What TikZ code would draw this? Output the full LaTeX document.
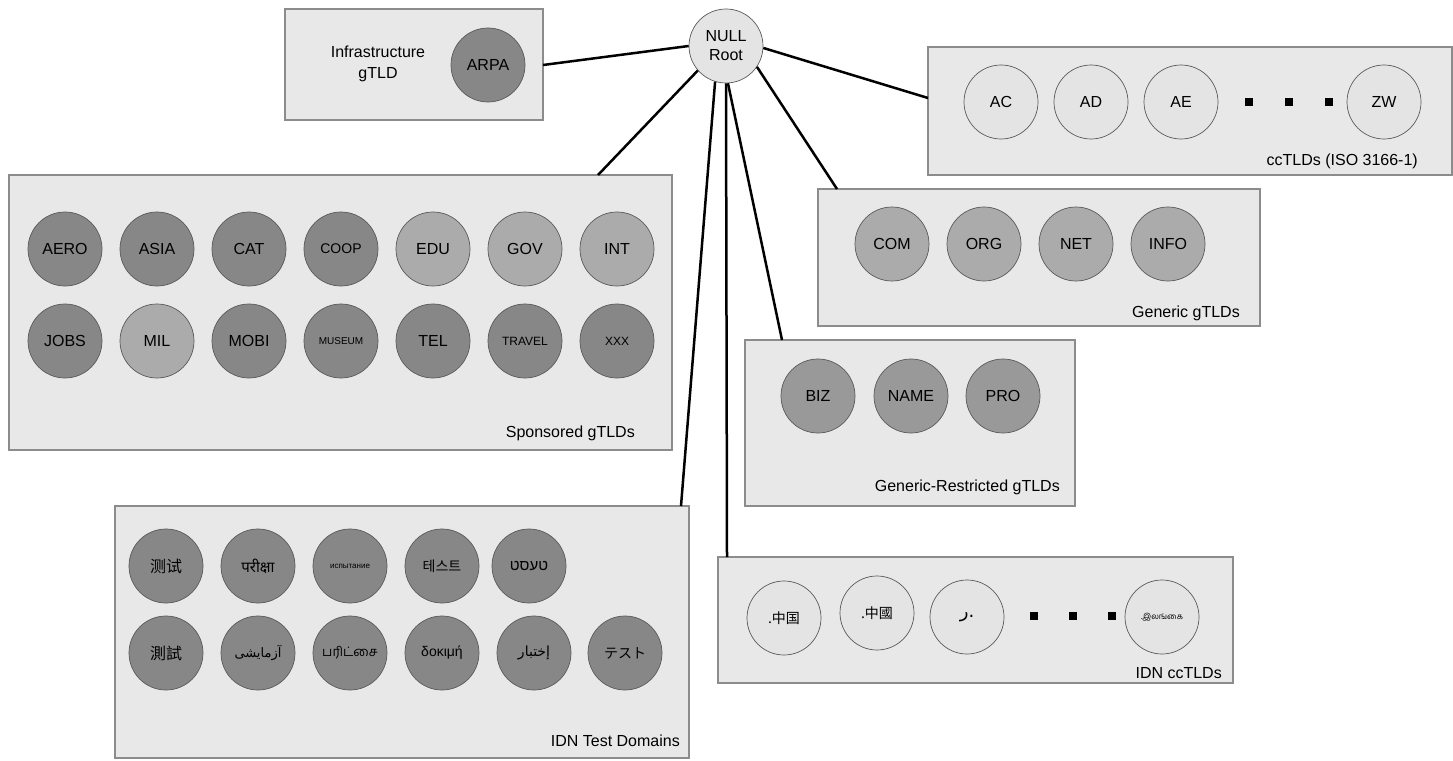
\documentclass[tikz,border=0pt]{standalone}
\usepackage{fontspec}
\setmainfont{Liberation Sans}
\newfontfamily\cjksc{Noto Sans CJK SC}
\newfontfamily\cjktc{Noto Sans CJK TC}
\newfontfamily\cjkjp{Noto Sans CJK JP}
\newfontfamily\cjkkr{Noto Sans CJK KR}
\newfontfamily\devafont[Script=Devanagari]{Noto Sans}
\newfontfamily\tamilfont[Script=Tamil]{Hind Madurai}
\newfontfamily\arabicfont[Script=Arabic]{DejaVu Sans}
\newfontfamily\hebfont[Script=Hebrew]{Liberation Sans}
\TeXXeTstate=1
\definecolor{boxfill}{HTML}{E8E8E8}
\definecolor{boxborder}{HTML}{8C8C8C}
\definecolor{circborder}{HTML}{5A5A5A}
\definecolor{cdark}{HTML}{878787}
\definecolor{cmid}{HTML}{ABABAB}
\definecolor{cres}{HTML}{999999}
\definecolor{clight}{HTML}{E4E4E4}
\newcommand{\fs}[1]{\fontsize{#1}{#1}\selectfont}
\tikzset{
  groupbox/.style={draw=boxborder, fill=boxfill, line width=1.2pt, inner sep=0pt},
  tld/.style={circle, draw=circborder, line width=0.7pt, minimum size=74pt, inner sep=0pt, font=\fs{16}},
  tlddark/.style={tld, fill=cdark},
  tldmid/.style={tld, fill=cmid},
  tldres/.style={tld, fill=cres},
  tldlight/.style={tld, fill=clight},
  dotsq/.style={fill=black, minimum size=8pt, inner sep=0pt},
  grouplabel/.style={anchor=east, inner sep=0pt, font=\fs{16}},
  link/.style={draw=black, line width=2.5pt}
}
\begin{document}
\begin{tikzpicture}[x=1pt,y=-1pt]
\path[use as bounding box] (0,0) rectangle (1453,760);

% group boxes
\node[groupbox, minimum width=258pt, minimum height=111pt] (infra) at (414,64.5) {};
\node[groupbox, minimum width=524pt, minimum height=128pt] (cc) at (1190,111) {};
\node[groupbox, minimum width=442pt, minimum height=137pt] (generic) at (1039,257.5) {};
\node[groupbox, minimum width=330pt, minimum height=166pt] (restr) at (910,423) {};
\node[groupbox, minimum width=663pt, minimum height=275pt] (spons) at (340.5,312.5) {};
\node[groupbox, minimum width=574pt, minimum height=252pt] (idntest) at (402,632) {};
\node[groupbox, minimum width=515pt, minimum height=126pt] (idncc) at (975.5,620) {};

% root
\node[tldlight, align=center, font=\fontsize{16}{19}\selectfont] (root) at (726,46) {NULL\\Root};

% infrastructure
\node[align=center, font=\fontsize{16}{21}\selectfont] (infralabel) at (378,64) {Infrastructure\\gTLD};
\node[tlddark] (arpa) at (488,65) {ARPA};

% ccTLDs
\node[tldlight] (ac) at (1001,102) {AC};
\node[tldlight] (ad) at (1091,102) {AD};
\node[tldlight] (ae) at (1181,102) {AE};
\node[dotsq] (ccd1) at (1249,102) {};
\node[dotsq] (ccd2) at (1289,102) {};
\node[dotsq] (ccd3) at (1329,102) {};
\node[tldlight] (zw) at (1384,102) {ZW};
\node[grouplabel] (cclabel) at (1418,161) {ccTLDs (ISO 3166-1)};

% generic
\node[tldmid] (com) at (892,244) {COM};
\node[tldmid] (org) at (984,244) {ORG};
\node[tldmid] (net) at (1076,244) {NET};
\node[tldmid] (info) at (1168,244) {INFO};
\node[grouplabel] (genlabel) at (1240,313) {Generic gTLDs};

% generic-restricted
\node[tldres] (biz) at (818,396) {BIZ};
\node[tldres] (name) at (911,396) {NAME};
\node[tldres] (pro) at (1003,396) {PRO};
\node[grouplabel] (reslabel) at (1060,487) {Generic-Restricted gTLDs};

% sponsored
\node[tlddark] (aero) at (65,249) {AERO};
\node[tlddark] (asia) at (157,249) {ASIA};
\node[tlddark] (cat) at (249,249) {CAT};
\node[tlddark, font=\fs{14}] (coop) at (341,249) {COOP};
\node[tldmid] (edu) at (433,249) {EDU};
\node[tldmid] (gov) at (525,249) {GOV};
\node[tldmid] (int) at (617,249) {INT};
\node[tlddark] (jobs) at (65,341) {JOBS};
\node[tldmid] (mil) at (157,341) {MIL};
\node[tlddark] (mobi) at (249,341) {MOBI};
\node[tlddark, font=\fs{10}] (museum) at (341,341) {MUSEUM};
\node[tlddark] (tel) at (433,341) {TEL};
\node[tlddark, font=\fs{12}] (travel) at (525,341) {TRAVEL};
\node[tlddark, font=\fs{12}] (xxx) at (617,341) {XXX};
\node[grouplabel] (sponslabel) at (635,433) {Sponsored gTLDs};

% IDN test domains
\node[tlddark, font=\cjksc\fs{16}] (t1) at (166,566) {测试};
\node[tlddark, font=\devafont\fs{15}] (t2) at (258,566) {परीक्षा};
\node[tlddark, font=\fs{8}] (t3) at (350,566) {испытание};
\node[tlddark, font=\cjkkr\fs{14}] (t4) at (442,566) {테스트};
\node[tlddark, font=\hebfont\fs{15}] (t5) at (529,566) {\beginR טעסט\endR};
\node[tlddark, font=\cjktc\fs{16}] (t6) at (166,653) {測試};
\node[tlddark, font=\arabicfont\fs{13}] (t7) at (258,653) {\beginR آزمایشی\endR};
\node[tlddark, font=\tamilfont\fs{13}] (t8) at (350,653) {பரிட்சை};
\node[tlddark, font=\fs{14}] (t9) at (442,653) {δοκιμή};
\node[tlddark, font=\arabicfont\fs{14}] (t10) at (534,653) {\beginR إختبار\endR};
\node[tlddark, font=\cjkjp\fs{14}] (t11) at (625,653) {テスト};
\node[grouplabel] (testlabel) at (680,741) {IDN Test Domains};

% IDN ccTLDs
\node[tldlight, font=\cjksc\fs{14}] (i1) at (784,618) {.中国};
\node[tldlight, font=\cjktc\fs{14}] (i2) at (877,613) {.中國};
\node[tldlight, font=\arabicfont\fs{18}] (i3) at (967,617) {\beginR .ر\endR};
\node[dotsq] (icd1) at (1034,616) {};
\node[dotsq] (icd2) at (1073,616) {};
\node[dotsq] (icd3) at (1112,616) {};
\node[tldlight, font=\tamilfont\fs{8}] (i4) at (1162,617) {.இலங்கை};
\node[grouplabel] (idncclabel) at (1222,673) {IDN ccTLDs};

% attachment points on the boxes
\coordinate (infraIn) at (543,65);
\coordinate (ccIn) at (928,98);
\coordinate (genIn) at (837,189);
\coordinate (resIn) at (782,340);
\coordinate (sponsIn) at (598,175);
\coordinate (testIn) at (681,506);
\coordinate (idnccIn) at (727,557);

% connectors
\draw[link] (root.west) -- (infraIn);
\draw[link] (root.357) -- (ccIn);
\draw[link] (root.326) -- (genIn);
\draw[link] (root.273) -- (resIn);
\draw[link] (root.221) -- (sponsIn);
\draw[link] (root.253) -- (testIn);
\draw[link] (root.270) -- (idnccIn);
\end{tikzpicture}
\end{document}
